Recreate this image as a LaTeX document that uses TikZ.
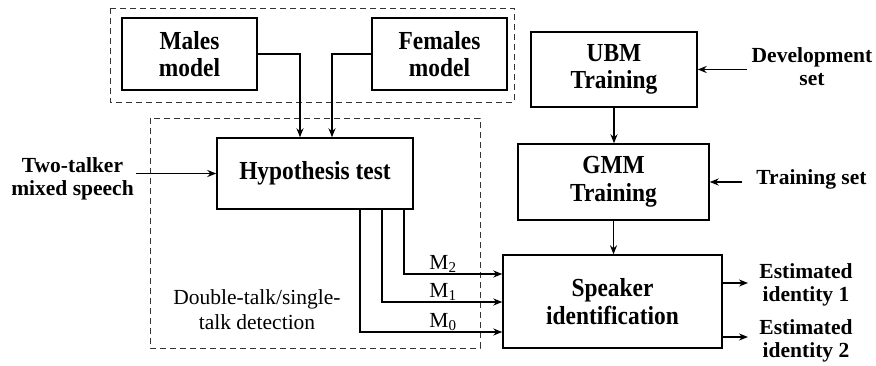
\documentclass[tikz,border=0pt]{standalone}
\usepackage{fontspec}
\setmainfont{Liberation Serif}
\newfontfamily\boxfont[FakeStretch=0.9]{Liberation Serif}
\usetikzlibrary{arrows.meta,calc}
\begin{document}
\begin{tikzpicture}[x=1pt,y=-1pt,
  blk/.style={draw,line width=1.4pt,rectangle,align=center,font=\boxfont\fontsize{26}{27.5}\selectfont\bfseries,inner sep=0pt},
  side/.style={align=center,font=\fontsize{21.5}{23}\selectfont\bfseries,inner sep=2pt},
  reg/.style={align=center,font=\fontsize{21.5}{25}\selectfont,inner sep=1pt},
  arr/.style={line width=1.4pt,-{Stealth[length=9pt,width=7pt]}},
  grp/.style={draw=black!80,line width=0.9pt,dash pattern=on 6pt off 4pt}]
\useasboundingbox (0,0) rectangle (876,366);
% group boxes
\draw[grp] (110,8) rectangle (514,102);
\draw[grp] (150,118) rectangle (480,348);
% blocks
\node[blk,minimum width=135pt,minimum height=72pt] (males) at (189.5,54) {Males\\model};
\node[blk,minimum width=135pt,minimum height=72pt] (fem) at (439.5,54) {Females\\model};
\node[blk,minimum width=196pt,minimum height=71pt] (hyp) at (315,173.5) {Hypothesis test};
\node[blk,minimum width=166pt,minimum height=75pt] (ubm) at (614,69.5) {UBM\\Training};
\node[blk,minimum width=191pt,minimum height=76pt] (gmm) at (613.5,182) {GMM\\Training};
\node[blk,minimum width=219pt,minimum height=93pt] (spk) at (612.5,301.5) {Speaker\\identification};
% side labels
\node[side] (tt) at (72.5,179) {Two-talker\\mixed speech};
\node[side] (dev) at (812,66.5) {Development\\set};
\node[side] (trs) at (811.5,179) {Training set};
\node[side] (est1) at (806,285) {Estimated\\identity 1};
\node[side] (est2) at (806,341) {Estimated\\identity 2};
\node[reg] (dt) at (257,310) {Double-talk/single-\\talk detection};
% connectors
\draw[arr] (males.east) -| ([xshift=-15pt]hyp.north);
\draw[arr] (fem.west) -| ([xshift=17pt]hyp.north);
\draw[arr] (tt.east |- hyp.west) -- (hyp.west);
\draw[arr] ([xshift=-3pt]dev.west |- ubm.east) -- (ubm.east);
\draw[arr] ([xshift=-12pt]trs.west |- gmm.east) -- (gmm.east);
\draw[arr] (ubm.south) -- (ubm.south |- gmm.north);
\draw[arr] (gmm.south) -- (gmm.south |- spk.north);
\draw[arr] ([xshift=89pt]hyp.south) |- ([yshift=27.5pt]spk.west);
\draw[arr] ([xshift=67pt]hyp.south) |- ([yshift=-0.5pt]spk.west);
\draw[arr] ([xshift=45pt]hyp.south) |- ([yshift=-30.5pt]spk.west);
\node[reg,anchor=south] (m2) at (443,274) {M\textsubscript{2}};
\node[reg,anchor=south] (m1) at (443,302) {M\textsubscript{1}};
\node[reg,anchor=south] (m0) at (443,332) {M\textsubscript{0}};
\coordinate (o1) at (748,283);
\coordinate (o2) at (748,337);
\draw[arr] (spk.east |- o1) -- (o1);
\draw[arr] (spk.east |- o2) -- (o2);
\end{tikzpicture}
\end{document}
